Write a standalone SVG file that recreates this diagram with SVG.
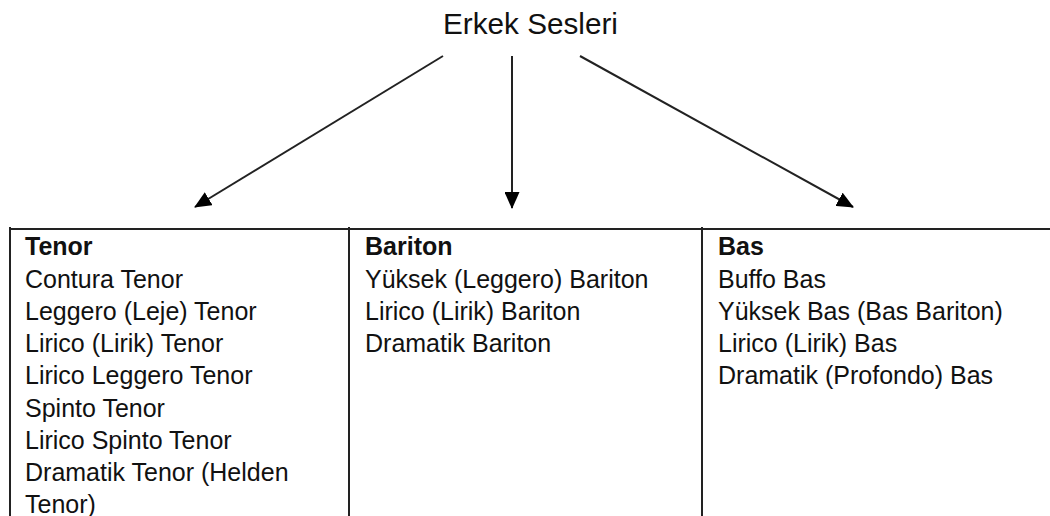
<svg xmlns="http://www.w3.org/2000/svg" width="1050" height="516" viewBox="0 0 1050 516">
<style>
text{font-family:"Liberation Sans",Arial,sans-serif;fill:#111;}
.t{font-size:25px;}
.h{font-size:25px;font-weight:bold;}
.title{font-size:29.7px;}
.edge{stroke:#222;stroke-width:2;fill:none;marker-end:url(#ah);}
.grid{stroke:#222;stroke-width:2;fill:none;}
</style>
<defs>
<marker id="ah" markerWidth="17" markerHeight="15" refX="16" refY="7.5" orient="auto" markerUnits="userSpaceOnUse">
<path d="M0,0 L17,7.5 L0,15 Z" fill="#000"/>
</marker>
</defs>
<rect width="1050" height="516" fill="#fff"/>
<g id="title"><text class="title" x="443" y="34">Erkek Sesleri</text></g>
<g id="connectors">
<line class="edge" x1="443" y1="56" x2="195" y2="207"/>
<line class="edge" x1="512" y1="56" x2="512" y2="208"/>
<line class="edge" x1="580" y1="56" x2="853" y2="207"/>
</g>
<g id="table">
<line class="grid" x1="9" y1="229" x2="1050" y2="229"/>
<line class="grid" x1="10" y1="227" x2="10" y2="516"/>
<line class="grid" x1="349" y1="227" x2="349" y2="516"/>
<line class="grid" x1="702" y1="227" x2="702" y2="516"/>
</g>
<g id="tenor">
<text class="h" x="25" y="255">Tenor</text>
<text class="t" x="25" y="288">Contura Tenor</text>
<text class="t" x="25" y="320">Leggero (Leje) Tenor</text>
<text class="t" x="25" y="352">Lirico (Lirik) Tenor</text>
<text class="t" x="25" y="384">Lirico Leggero Tenor</text>
<text class="t" x="25" y="417">Spinto Tenor</text>
<text class="t" x="25" y="449">Lirico Spinto Tenor</text>
<text class="t" x="25" y="481">Dramatik Tenor (Helden</text>
<text class="t" x="25" y="513">Tenor)</text>
</g>
<g id="bariton">
<text class="h" x="365" y="255">Bariton</text>
<text class="t" x="365" y="288">Yüksek (Leggero) Bariton</text>
<text class="t" x="365" y="320">Lirico (Lirik) Bariton</text>
<text class="t" x="365" y="352">Dramatik Bariton</text>
</g>
<g id="bas">
<text class="h" x="718" y="255">Bas</text>
<text class="t" x="718" y="288">Buffo Bas</text>
<text class="t" x="718" y="320">Yüksek Bas (Bas Bariton)</text>
<text class="t" x="718" y="352">Lirico (Lirik) Bas</text>
<text class="t" x="718" y="384">Dramatik (Profondo) Bas</text>
</g>
</svg>
